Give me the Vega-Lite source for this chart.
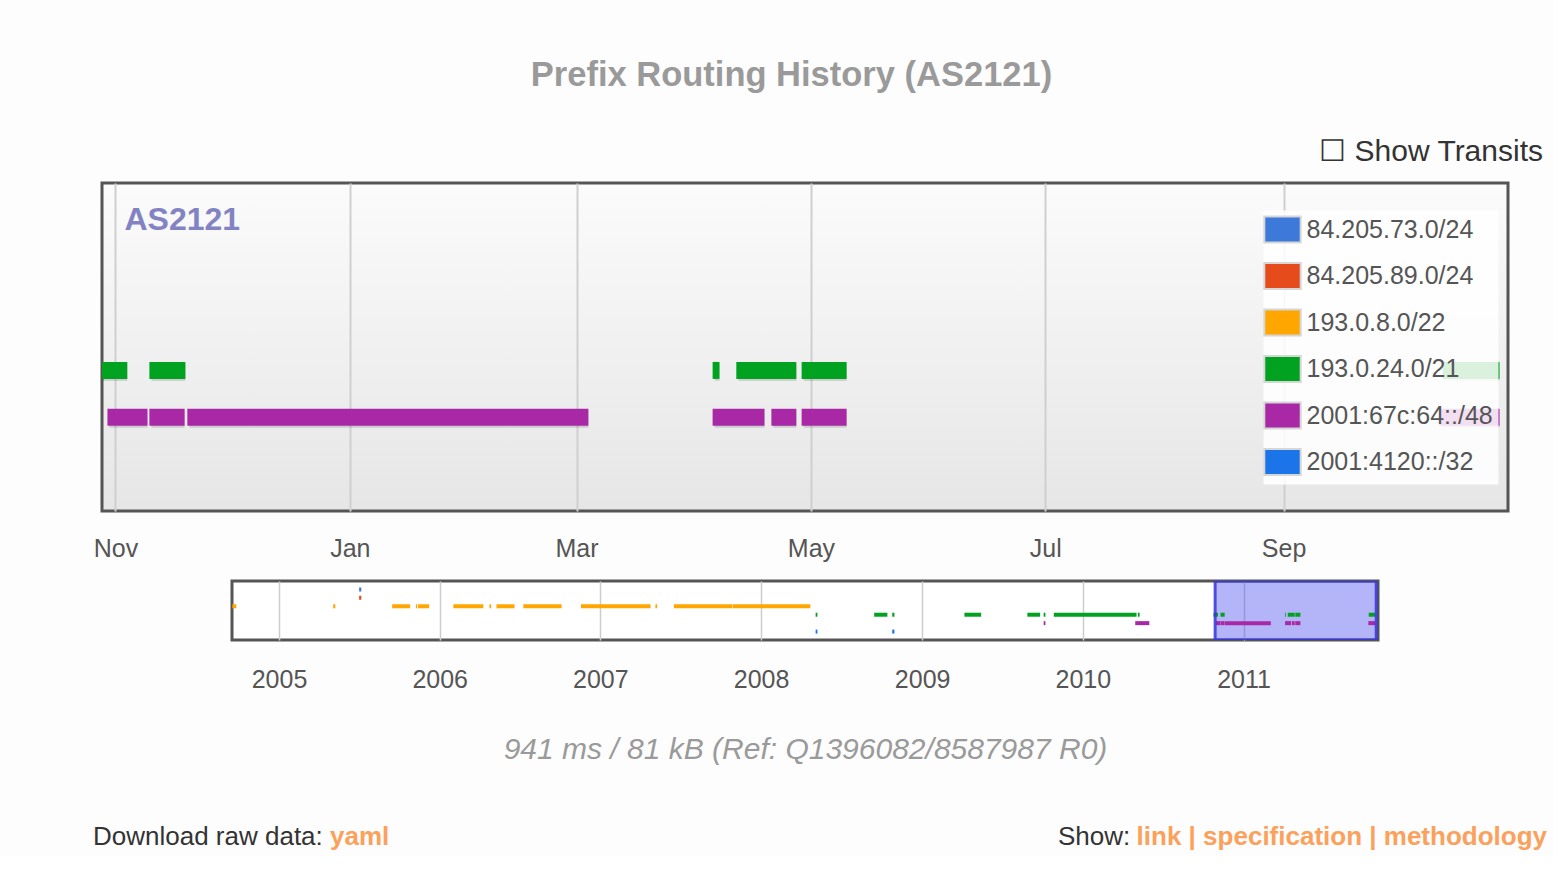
{
  "$schema": "https://vega.github.io/schema/vega-lite/v6.json",
  "background": "#fdfdfd",
  "padding": {"left": 91, "top": 58, "right": 5, "bottom": 5},
  "title": {"text": "Prefix Routing History (AS2121)", "anchor": "middle", "dx": -28, "offset": 42, "fontSize": 34.5, "fontWeight": "bold", "color": "#9a9a9a", "font": "Liberation Sans"},
  "datasets": {
    "segments": [
      {"prefix": "193.0.8.0/22", "start": "2004-09-17", "end": "2004-09-26"},
      {"prefix": "193.0.8.0/22", "start": "2005-05-04", "end": "2005-05-09"},
      {"prefix": "84.205.73.0/24", "start": "2005-07-02", "end": "2005-07-07"},
      {"prefix": "84.205.89.0/24", "start": "2005-07-02", "end": "2005-07-07"},
      {"prefix": "193.0.8.0/22", "start": "2005-09-15", "end": "2005-10-26"},
      {"prefix": "193.0.8.0/22", "start": "2005-11-08", "end": "2005-11-11"},
      {"prefix": "193.0.8.0/22", "start": "2005-11-13", "end": "2005-12-08"},
      {"prefix": "193.0.8.0/22", "start": "2006-02-01", "end": "2006-04-10"},
      {"prefix": "193.0.8.0/22", "start": "2006-04-24", "end": "2006-04-28"},
      {"prefix": "193.0.8.0/22", "start": "2006-05-10", "end": "2006-06-20"},
      {"prefix": "193.0.8.0/22", "start": "2006-07-10", "end": "2006-10-05"},
      {"prefix": "193.0.8.0/22", "start": "2006-11-18", "end": "2007-04-25"},
      {"prefix": "193.0.8.0/22", "start": "2007-05-06", "end": "2007-05-10"},
      {"prefix": "193.0.8.0/22", "start": "2007-06-17", "end": "2007-10-28"},
      {"prefix": "193.0.8.0/22", "start": "2007-10-29", "end": "2008-04-22"},
      {"prefix": "193.0.24.0/21", "start": "2008-05-04", "end": "2008-05-08"},
      {"prefix": "2001:4120::/32", "start": "2008-05-04", "end": "2008-05-08"},
      {"prefix": "193.0.24.0/21", "start": "2008-09-14", "end": "2008-10-14"},
      {"prefix": "193.0.24.0/21", "start": "2008-10-25", "end": "2008-10-30"},
      {"prefix": "2001:4120::/32", "start": "2008-10-25", "end": "2008-10-30"},
      {"prefix": "193.0.24.0/21", "start": "2009-04-07", "end": "2009-05-15"},
      {"prefix": "193.0.24.0/21", "start": "2009-08-28", "end": "2009-09-26"},
      {"prefix": "193.0.24.0/21", "start": "2009-10-04", "end": "2009-10-08"},
      {"prefix": "2001:67c:64::/48", "start": "2009-10-04", "end": "2009-10-08"},
      {"prefix": "193.0.24.0/21", "start": "2009-10-27", "end": "2010-05-03"},
      {"prefix": "193.0.24.0/21", "start": "2010-05-06", "end": "2010-05-10"},
      {"prefix": "2001:67c:64::/48", "start": "2010-04-30", "end": "2010-06-01"},
      {"prefix": "193.0.24.0/21", "start": "2010-10-25T00:00Z", "end": "2010-11-04T02:00Z"},
      {"prefix": "193.0.24.0/21", "start": "2010-11-09T20:00Z", "end": "2010-11-19T05:00Z"},
      {"prefix": "193.0.24.0/21", "start": "2011-04-05T10:00Z", "end": "2011-04-07T05:00Z"},
      {"prefix": "193.0.24.0/21", "start": "2011-04-11T14:00Z", "end": "2011-04-27T05:00Z"},
      {"prefix": "193.0.24.0/21", "start": "2011-04-28T14:00Z", "end": "2011-05-10T07:00Z"},
      {"prefix": "193.0.24.0/21", "start": "2011-10-12T10:00Z", "end": "2011-10-27T05:00Z"},
      {"prefix": "2001:67c:64::/48", "start": "2010-10-29T22:00Z", "end": "2010-11-09T08:00Z"},
      {"prefix": "2001:67c:64::/48", "start": "2010-11-09T20:00Z", "end": "2010-11-19T00:00Z"},
      {"prefix": "2001:67c:64::/48", "start": "2010-11-19T17:00Z", "end": "2011-03-04T02:00Z"},
      {"prefix": "2001:67c:64::/48", "start": "2011-04-05T10:00Z", "end": "2011-04-18T22:00Z"},
      {"prefix": "2001:67c:64::/48", "start": "2011-04-20T17:00Z", "end": "2011-04-27T05:00Z"},
      {"prefix": "2001:67c:64::/48", "start": "2011-04-28T14:00Z", "end": "2011-05-10T07:00Z"},
      {"prefix": "2001:67c:64::/48", "start": "2011-10-11T14:00Z", "end": "2011-10-27T05:00Z"}
    ]
  },
  "center": true,
  "bounds": "flush",
  "spacing": 70,
  "resolve": {"scale": {"x": "independent", "y": "independent", "color": "independent"}, "legend": {"color": "independent"}},
  "vconcat": [
    {
      "width": 1406,
      "height": 328,
      "title": {"text": "☐ Show Transits", "anchor": "end", "frame": "group", "dx": 35, "offset": 16, "fontSize": 30, "fontWeight": "normal", "color": "#333333", "font": "Liberation Sans"},
      "view": {
        "fill": {"gradient": "linear", "x1": 0, "y1": 0, "x2": 0, "y2": 1, "stops": [{"offset": 0, "color": "#fbfbfb"}, {"offset": 1, "color": "#e6e6e6"}]},
        "stroke": "#555555",
        "strokeWidth": 3
      },
      "data": {"name": "segments"},
      "layer": [
        {
          "mark": {"type": "bar", "size": 17, "color": "#000000", "opacity": 0.13, "xOffset": 2, "yOffset": 2, "clip": true},
          "encoding": {
            "x": {
              "field": "start", "type": "temporal",
              "scale": {"type": "utc", "domain": {"param": "brush"}},
              "axis": {
                "orient": "bottom", "format": "%b", "tickCount": {"interval": "month", "step": 2},
                "grid": true, "gridColor": "#cfcfcf", "gridWidth": 2,
                "domain": false, "ticks": false, "tickSize": 0,
                "labelPadding": 25, "labelFontSize": 25, "labelColor": "#555555", "labelFlush": false, "labelOverlap": false,
                "title": "yaml", "titleX": 227.5, "titleY": 325.5, "titleAlign": "left", "titleBaseline": "middle",
                "titleFontSize": 26, "titleFontWeight": "bold", "titleColor": "#fba15c"
              }
            },
            "x2": {"field": "end"},
            "y": {
              "field": "prefix", "type": "nominal",
              "scale": {"type": "point", "padding": 1.065, "domain": ["84.205.73.0/24", "84.205.89.0/24", "193.0.8.0/22", "193.0.24.0/21", "2001:67c:64::/48", "2001:4120::/32"]},
              "axis": {
                "orient": "left", "labels": false, "ticks": false, "domain": false, "grid": false,
                "title": "AS2121", "titleAngle": 0, "titleX": 22, "titleY": 36, "titleAlign": "left", "titleBaseline": "middle",
                "titleFontSize": 32, "titleFontWeight": "bold", "titleColor": "#8383c4"
              }
            }
          }
        },
        {
          "mark": {"type": "bar", "size": 17, "clip": true},
          "encoding": {
            "x": {
              "field": "start", "type": "temporal",
              "scale": {"type": "utc", "domain": {"param": "brush"}},
              "axis": {
                "orient": "top", "labels": false, "ticks": false, "domain": false, "grid": false,
                "title": "Show:", "titleX": 955.5, "titleY": 653.5, "titleAlign": "left", "titleBaseline": "middle",
                "titleFontSize": 26, "titleFontWeight": "normal", "titleColor": "#333333"
              }
            },
            "x2": {"field": "end"},
            "y": {
              "field": "prefix", "type": "nominal",
              "scale": {"type": "point", "padding": 1.065, "domain": ["84.205.73.0/24", "84.205.89.0/24", "193.0.8.0/22", "193.0.24.0/21", "2001:67c:64::/48", "2001:4120::/32"]},
              "axis": {
                "orient": "right", "labels": false, "ticks": false, "domain": false, "grid": false,
                "title": "link | specification | methodology", "titleAngle": 0, "titleX": 38.5, "titleY": 653.5, "titleAlign": "right", "titleBaseline": "middle",
                "titleFontSize": 26, "titleFontWeight": "bold", "titleColor": "#fba15c"
              }
            },
            "color": {
              "field": "prefix", "type": "nominal",
              "scale": {"domain": ["84.205.73.0/24", "84.205.89.0/24", "193.0.8.0/22", "193.0.24.0/21", "2001:67c:64::/48", "2001:4120::/32"], "range": ["#3d79d9", "#e54b1b", "#ffa600", "#00a21f", "#a828a6", "#1b74e8"]},
              "legend": {
                "orient": "none", "legendX": 1161.5, "legendY": 27.5, "title": null,
                "fillColor": "rgba(255,255,255,0.85)", "padding": 5,
                "symbolType": "M-1.4,-1H1.4V1H-1.4Z", "symbolSize": 676,
                "symbolStrokeColor": "#d6d6d6", "symbolStrokeWidth": 2, "symbolOpacity": 1,
                "labelFontSize": 25, "labelColor": "#555555", "labelFont": "Liberation Sans",
                "labelOffset": 10, "rowPadding": 12.5, "labelLimit": 300
              }
            }
          }
        }
      ],
      "resolve": {"axis": {"x": "independent", "y": "independent"}}
    },
    {
      "width": 1146,
      "height": 59,
      "view": {"fill": "#ffffff", "stroke": "#555555", "strokeWidth": 3},
      "data": {"name": "segments"},
      "params": [
        {
          "name": "brush",
          "select": {"type": "interval", "encodings": ["x"], "mark": {"fill": "#4444ee", "fillOpacity": 0.4, "stroke": "#3535dd", "strokeWidth": 3, "strokeOpacity": 0.85}},
          "value": {"x": [{"year": 2010, "month": 10, "date": 28, "hours": 12, "utc": true}, {"year": 2011, "month": 10, "date": 29, "hours": 10, "utc": true}]}
        }
      ],
      "mark": {"type": "bar", "size": 4},
      "encoding": {
        "x": {
          "field": "start", "type": "temporal",
          "scale": {"type": "utc", "domain": [{"year": 2004, "month": 9, "date": 16, "hours": 5, "utc": true}, {"year": 2011, "month": 11, "date": 2, "hours": 12, "utc": true}]},
          "axis": {
            "format": "%Y", "tickCount": {"interval": "year", "step": 1},
            "grid": true, "gridColor": "#cccccc", "gridWidth": 1.5,
            "domain": false, "ticks": false, "tickSize": 0,
            "labelPadding": 27, "labelFontSize": 25, "labelColor": "#555555", "labelFlush": false, "labelOverlap": false,
            "title": "941 ms / 81 kB (Ref: Q1396082/8587987 R0)", "titlePadding": 42, "titleFontSize": 30,
            "titleFontStyle": "italic", "titleFontWeight": "normal", "titleColor": "#9a9a9a"
          }
        },
        "x2": {"field": "end"},
        "y": {
          "field": "prefix", "type": "nominal",
          "scale": {"type": "point", "padding": 1.1, "domain": ["84.205.73.0/24", "84.205.89.0/24", "193.0.8.0/22", "193.0.24.0/21", "2001:67c:64::/48", "2001:4120::/32"]},
          "axis": {
            "orient": "left", "labels": false, "ticks": false, "domain": false, "grid": false,
            "title": "Download raw data:", "titleAngle": 0, "titleX": -139.5, "titleY": 255.5, "titleAlign": "left", "titleBaseline": "middle",
            "titleFontSize": 26, "titleFontWeight": "normal", "titleColor": "#333333"
          }
        },
        "color": {
          "field": "prefix", "type": "nominal",
          "scale": {"domain": ["84.205.73.0/24", "84.205.89.0/24", "193.0.8.0/22", "193.0.24.0/21", "2001:67c:64::/48", "2001:4120::/32"], "range": ["#3d79d9", "#e54b1b", "#ffa600", "#00a21f", "#a828a6", "#1b74e8"]},
          "legend": null
        }
      }
    }
  ],
  "config": {
    "font": "Liberation Sans",
    "axis": {"labelFont": "Liberation Sans", "titleFont": "Liberation Sans"},
    "legend": {"labelFont": "Liberation Sans"},
    "title": {"font": "Liberation Sans"}
  }
}
